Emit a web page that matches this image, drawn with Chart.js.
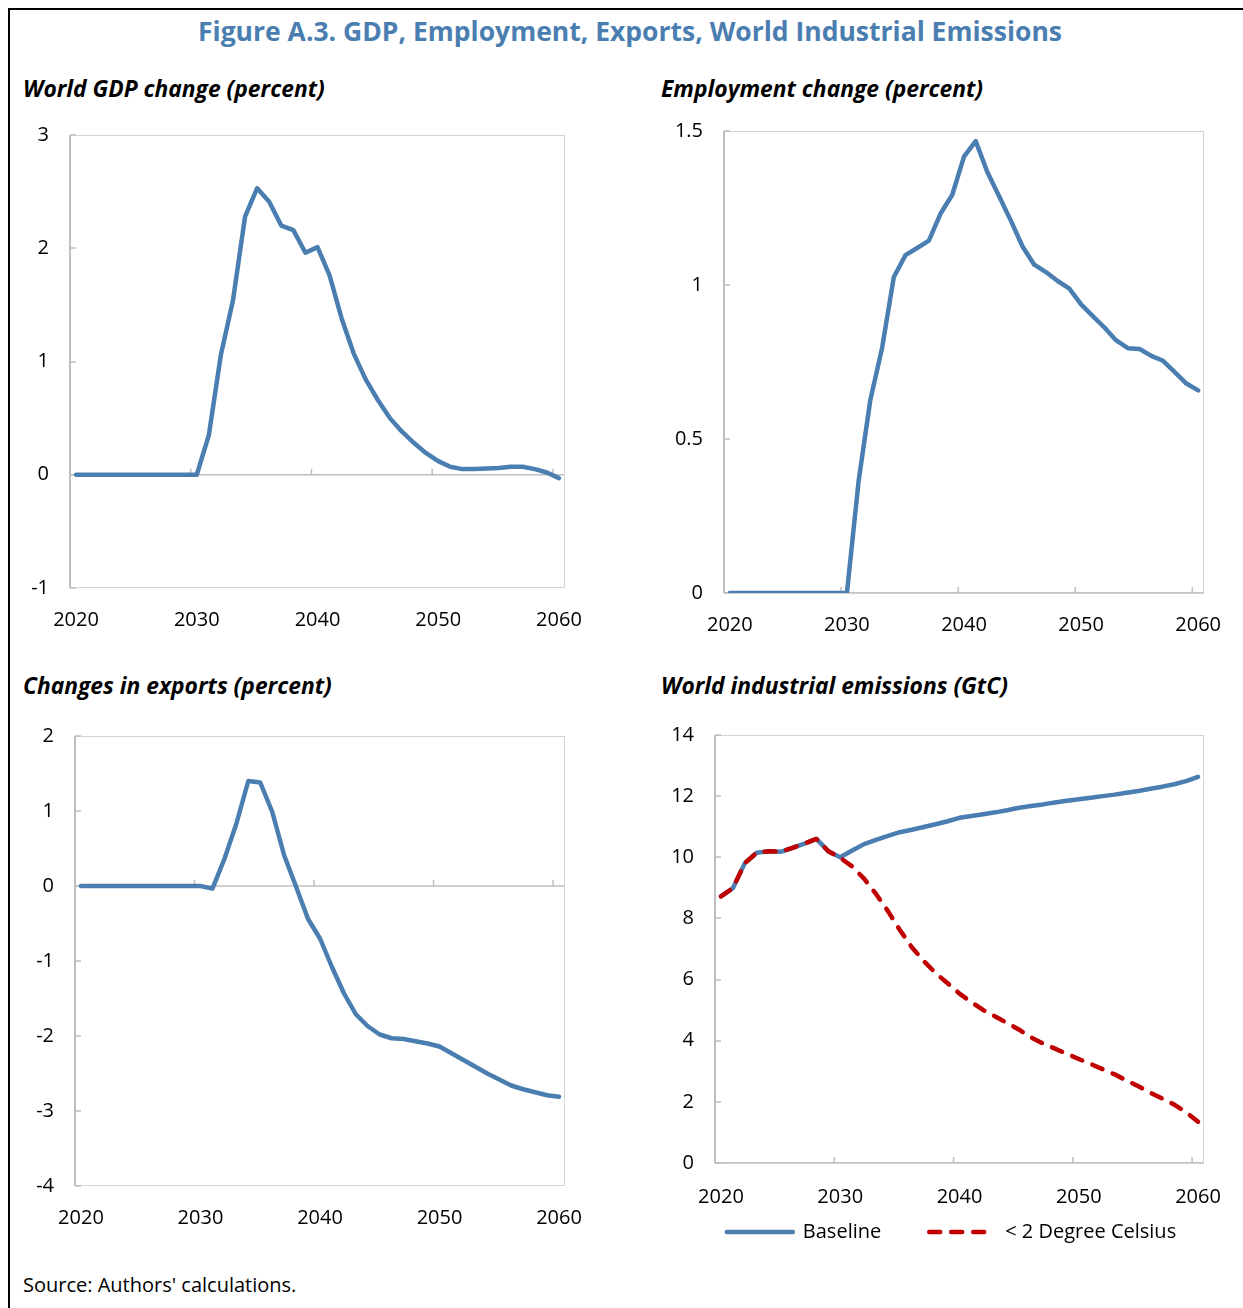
<!DOCTYPE html>
<html>
<head>
<meta charset="utf-8">
<title>Figure A.3</title>
<script src="https://cdn.jsdelivr.net/npm/chart.js@4.4.1/dist/chart.umd.min.js"></script>
<style>
  html, body { margin: 0; padding: 0; background: #fff; }
  #page { position: relative; width: 1243px; height: 1308px; overflow: hidden; font-family: "Open Sans", "Noto Sans", sans-serif; }
  .rule-top { position: absolute; left: 8px; top: 8px; width: 1235px; height: 2px; background: #000; }
  .rule-left { position: absolute; left: 8px; top: 8px; width: 2px; height: 1300px; background: #000; }
  #title { position: absolute; left: 0; top: 13px; width: 1260px; line-height: 36px; text-align: center;
           font-size: 26.5px; font-weight: 700; color: #4a7eb1; white-space: nowrap; }
  .panel-title { position: absolute; font-size: 22.8px; font-weight: 700; font-style: italic; line-height: 30px; color: #000; white-space: nowrap; }
  #source { position: absolute; left: 23px; top: 1271px; line-height: 28px; font-size: 20px; color: #000; }
  canvas { position: absolute; }
</style>
</head>
<body>
<div id="page">
  <div class="rule-top"></div>
  <div class="rule-left"></div>
  <div id="title">Figure A.3. GDP, Employment, Exports, World Industrial Emissions</div>

  <div class="panel-title" style="left:23px; top:74px;">World GDP change (percent)</div>
  <div class="panel-title" style="left:661px; top:74px;">Employment change (percent)</div>
  <div class="panel-title" style="left:23px; top:671px;">Changes in exports (percent)</div>
  <div class="panel-title" style="left:661px; top:671px;">World industrial emissions (GtC)</div>

  <canvas id="gdp" width="610" height="543" style="left:0px; top:95px;"></canvas>
  <canvas id="employment" width="595" height="552" style="left:654px; top:91px;"></canvas>
  <canvas id="exports" width="605" height="540" style="left:5px; top:696px;"></canvas>
  <canvas id="emissions" width="623" height="562" style="left:645px; top:695px;"></canvas>

  <div id="source">Source: Authors' calculations.</div>
</div>

<script>
// Years on the category axis
const years = [2020, 2021, 2022, 2023, 2024, 2025, 2026, 2027, 2028, 2029,
               2030, 2031, 2032, 2033, 2034, 2035, 2036, 2037, 2038, 2039,
               2040, 2041, 2042, 2043, 2044, 2045, 2046, 2047, 2048, 2049,
               2050, 2051, 2052, 2053, 2054, 2055, 2056, 2057, 2058, 2059, 2060];
const xTickLabels = ['2020', '2030', '2040', '2050', '2060'];

// World GDP change (percent)
const gdpChange = [0, 0, 0, 0, 0, 0, 0, 0, 0, 0,
                   0, 0.35, 1.06, 1.54, 2.28, 2.53, 2.41, 2.20, 2.16, 1.96,
                   2.01, 1.76, 1.38, 1.07, 0.84, 0.66, 0.50, 0.38, 0.28, 0.19,
                   0.12, 0.07, 0.05, 0.05, 0.055, 0.06, 0.07, 0.07, 0.05, 0.02, -0.03];
const gdpTicks = [-1, 0, 1, 2, 3];

// Employment change (percent)
const employmentChange = [0, 0, 0, 0, 0, 0, 0, 0, 0, 0,
                          0, 0.364, 0.627, 0.795, 1.025, 1.097, 1.12, 1.144, 1.232, 1.293,
                          1.417, 1.467, 1.366, 1.288, 1.209, 1.125, 1.066, 1.042, 1.013, 0.988,
                          0.937, 0.899, 0.862, 0.82, 0.795, 0.792, 0.77, 0.754, 0.717, 0.68, 0.658];
const employmentTicks = [0, 0.5, 1, 1.5];

// Changes in exports (percent)
const exportsChange = [0, 0, 0, 0, 0, 0, 0, 0, 0, 0,
                       0, -0.035, 0.36, 0.83, 1.40, 1.38, 0.99, 0.41, -0.01, -0.44,
                       -0.70, -1.08, -1.43, -1.71, -1.87, -1.98, -2.03, -2.04, -2.07, -2.10,
                       -2.14, -2.23, -2.32, -2.41, -2.50, -2.58, -2.66, -2.71, -2.75, -2.79, -2.81];
const exportsTicks = [-4, -3, -2, -1, 0, 1, 2];

// World industrial emissions (GtC)
const emissionsBaseline = [8.72, 8.99, 9.81, 10.15, 10.20, 10.18, 10.31, 10.45, 10.60, 10.20,
                           10.00, 10.22, 10.43, 10.57, 10.70, 10.82, 10.90, 10.99, 11.08, 11.18,
                           11.29, 11.35, 11.41, 11.47, 11.54, 11.62, 11.68, 11.73, 11.79, 11.85,
                           11.90, 11.95, 12.00, 12.05, 12.11, 12.17, 12.24, 12.31, 12.39, 12.49, 12.63];
const emissionsBelow2C = [8.72, 8.99, 9.81, 10.15, 10.20, 10.18, 10.31, 10.45, 10.60, 10.20,
                          9.98, 9.70, 9.30, 8.80, 8.24, 7.62, 7.06, 6.61, 6.21, 5.88,
                          5.54, 5.26, 5.00, 4.79, 4.58, 4.36, 4.11, 3.91, 3.74, 3.57,
                          3.40, 3.24, 3.07, 2.90, 2.70, 2.51, 2.30, 2.11, 1.91, 1.66, 1.35];
const emissionsTicks = [0, 2, 4, 6, 8, 10, 12, 14];
const emissionsSeriesNames = ['Baseline', '< 2 Degree Celsius'];

const BLUE = '#4a7eb1';
const RED = '#c00000';
const AXIS_GREY = '#bfbfbf';
const FONT = '"Open Sans", "Noto Sans", sans-serif';

// Excel-style plot frame: light border, value axis, horizontal axis at zero,
// inside tick marks on both axes (category ticks sit between categories).
const plotFrame = {
  id: 'plotFrame',
  beforeDatasetsDraw(chart) {
    const { ctx, chartArea: a } = chart;
    const x = chart.scales.x, y = chart.scales.y;
    ctx.save();
    ctx.strokeStyle = '#d4d4d4';
    ctx.lineWidth = 1;
    ctx.strokeRect(a.left + 0.5, a.top + 0.5, a.width - 1, a.height - 1);

    ctx.strokeStyle = AXIS_GREY;
    ctx.lineWidth = 2;
    ctx.beginPath();
    ctx.moveTo(a.left, a.top);
    ctx.lineTo(a.left, a.bottom);
    ctx.stroke();

    const y0 = y.getPixelForValue(Math.max(0, y.min));
    ctx.lineWidth = 1.5;
    ctx.beginPath();
    ctx.moveTo(a.left, y0);
    ctx.lineTo(a.right, y0);
    ctx.stroke();

    ctx.beginPath();
    y.ticks.forEach(t => {
      const py = Math.round(y.getPixelForValue(t.value));
      ctx.moveTo(a.left, py);
      ctx.lineTo(a.left + 6, py);
    });
    years.forEach((yr, i) => {
      if (i > 0 && xTickLabels.includes(String(yr))) {
        const px = (x.getPixelForValue(i - 1) + x.getPixelForValue(i)) / 2;
        ctx.moveTo(px, y0);
        ctx.lineTo(px, y0 - 6);
      }
    });
    ctx.stroke();
    ctx.restore();
  }
};

function panelOptions({ yTicks, yWidth, xHeight, xPadding, xMirror, padding, legend, extraScales }) {
  const scales = {
    x: {
      type: 'category',
      offset: true,
      grid: { display: false, drawTicks: false },
      border: { display: false },
      ticks: {
        autoSkip: false, maxRotation: 0, minRotation: 0,
        padding: xPadding, mirror: !!xMirror, color: '#000',
        font: { family: FONT, size: 20 },
        callback(value) {
          const label = String(this.getLabelForValue(value));
          return xTickLabels.includes(label) ? label : '';
        }
      },
      afterFit(scale) { scale.height = xHeight; }
    },
    y: {
      type: 'linear',
      min: yTicks[0],
      max: yTicks[yTicks.length - 1],
      grid: { display: false, drawTicks: false },
      border: { display: false },
      ticks: {
        padding: 21, color: '#000',
        font: { family: FONT, size: 20 },
        callback: v => String(v)
      },
      afterBuildTicks(scale) { scale.ticks = yTicks.map(v => ({ value: v })); },
      afterFit(scale) { scale.width = yWidth; }
    }
  };
  Object.assign(scales, extraScales || {});
  return {
    responsive: false,
    animation: false,
    events: [],
    layout: { padding },
    plugins: {
      legend: legend || { display: false },
      tooltip: { enabled: false }
    },
    elements: {
      point: { radius: 0 },
      line: { tension: 0, borderCapStyle: 'round', borderJoinStyle: 'round' }
    },
    scales
  };
}

function lineSeries(label, data, color, dash) {
  return {
    label, data,
    borderColor: color, backgroundColor: color,
    borderWidth: 4.5,
    borderDash: dash || [],
    borderCapStyle: 'round',
    borderJoinStyle: 'round',
    pointRadius: 0,
    fill: false
  };
}

// Legend swatches drawn as line samples carrying each series' own dash and width.
function lineSampleLabels(chart) {
  const items = Chart.defaults.plugins.legend.labels.generateLabels(chart);
  items.forEach(item => {
    const ds = chart.data.datasets[item.datasetIndex];
    item.lineDash = ds.borderDash;
    item.lineCap = ds.borderCapStyle;
    item.lineWidth = ds.borderWidth;
    item.strokeStyle = ds.borderColor;
  });
  return items;
}

const basePadding = { left: 10, right: 45, top: 40, bottom: 0 };
const baseAxes = { yWidth: 60, xHeight: 50, xPadding: 20, padding: basePadding };

new Chart(document.getElementById('gdp'), {
  type: 'line',
  data: { labels: years, datasets: [lineSeries('World GDP change', gdpChange, BLUE)] },
  options: panelOptions({ yTicks: gdpTicks, ...baseAxes }),
  plugins: [plotFrame]
});

new Chart(document.getElementById('employment'), {
  type: 'line',
  data: { labels: years, datasets: [lineSeries('Employment change', employmentChange, BLUE)] },
  options: panelOptions({ yTicks: employmentTicks, ...baseAxes }),
  plugins: [plotFrame]
});

new Chart(document.getElementById('exports'), {
  type: 'line',
  data: { labels: years, datasets: [lineSeries('Changes in exports', exportsChange, BLUE)] },
  options: panelOptions({ yTicks: exportsTicks, ...baseAxes }),
  plugins: [plotFrame]
});

// The dashed scenario is listed first so it is painted over the baseline;
// the legend sort puts Baseline back in front.
// The year labels are mirrored (unclipped) so the legend can sit close beneath them.
new Chart(document.getElementById('emissions'), {
  type: 'line',
  data: {
    labels: years,
    datasets: [
      lineSeries(emissionsSeriesNames[1], emissionsBelow2C, RED, [11, 11]),
      lineSeries(emissionsSeriesNames[0], emissionsBaseline, BLUE)
    ]
  },
  options: panelOptions({
    yTicks: emissionsTicks, yWidth: 60, xHeight: 11, xPadding: -46, xMirror: true,
    padding: { left: 10, right: 20, top: 40, bottom: 5 },
    legend: {
      display: true,
      position: 'bottom',
      align: 'center',
      labels: {
        usePointStyle: true,
        pointStyle: 'line',
        pointStyleWidth: 66,
        padding: 48,
        color: '#000',
        font: { family: FONT, size: 20 },
        generateLabels: lineSampleLabels,
        sort: (a, b) => b.datasetIndex - a.datasetIndex
      }
    },
    extraScales: {
      // empty strip on the right so the legend row is centred under the labels
      yRight: {
        type: 'linear', position: 'right', display: true,
        grid: { display: false, drawTicks: false },
        border: { display: false },
        ticks: { display: false },
        afterFit(scale) { scale.width = 44; }
      }
    }
  }),
  plugins: [plotFrame]
});
</script>
</body>
</html>
